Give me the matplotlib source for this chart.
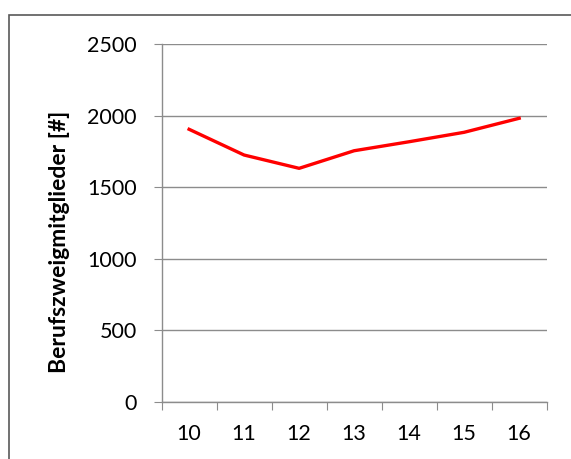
import matplotlib.pyplot as plt
from matplotlib.patches import Rectangle

# Mitglieder je Berufszweig
jahre = ["10", "11", "12", "13", "14", "15", "16"]
mitglieder = [1905, 1725, 1632, 1755, 1818, 1884, 1982]
y_ticks = [0, 500, 1000, 1500, 2000, 2500]

plt.rcParams['font.family'] = ['Lato', 'DejaVu Sans']

fig = plt.figure(figsize=(5.71, 4.59), dpi=100)
ax = fig.add_axes([0.283, 0.1248, 0.9574 - 0.283, 0.9037 - 0.1248])

# Rahmen des Diagrammbereichs
fig.patches.append(Rectangle((9 / 571, -0.1), 1.2, 1 - 15 / 459 + 0.1,
                             transform=fig.transFigure, fill=False,
                             edgecolor='#595959', linewidth=1.2))

x = list(range(len(jahre)))
ax.plot(x, mitglieder, color='#ff0000', linewidth=2.4, solid_joinstyle='round', zorder=3)

ax.set_xlim(-0.5, len(jahre) - 0.5)
ax.set_ylim(0, 2500)
ax.set_yticks(y_ticks)
ax.set_yticklabels([str(v) for v in y_ticks], fontsize=15.5)
ax.grid(axis='y', color='#8c8c8c', linewidth=1)
ax.set_axisbelow(True)

# Kategorien: Striche an den Grenzen, Beschriftung in der Mitte
ax.set_xticks([i - 0.5 for i in range(len(jahre) + 1)])
ax.set_xticklabels([])
ax.set_xticks(x, minor=True)
ax.set_xticklabels(jahre, minor=True, fontsize=15.5)
ax.tick_params(axis='x', which='major', length=6, color='#8c8c8c', direction='out')
ax.tick_params(axis='x', which='minor', length=0, pad=16)
ax.tick_params(axis='y', length=6, color='#8c8c8c', pad=12)

for s in ['top', 'right']:
    ax.spines[s].set_visible(False)
for s in ['left', 'bottom']:
    ax.spines[s].set_color('#8c8c8c')
    ax.spines[s].set_linewidth(1)

# Achsentitel, etwas unterhalb der Mitte der Zeichenfläche
fig.text(60 / 571, 1 - 242 / 459, 'Berufszweigmitglieder [#]', rotation=90,
         ha='center', va='center', fontsize=16.5, fontweight='bold')

fig.savefig('out.png', dpi=100)
